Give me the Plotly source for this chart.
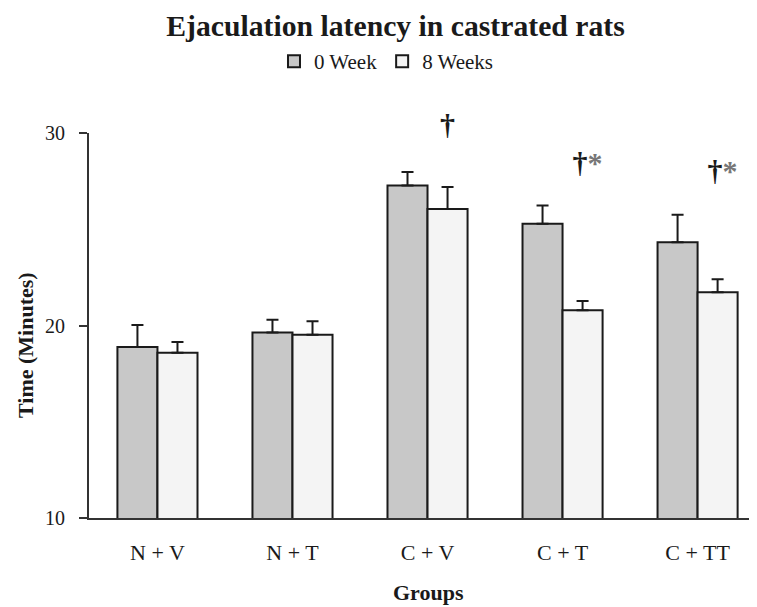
import plotly.graph_objects as go

groups = ["N + V", "N + T", "C + V", "C + T", "C + TT"]
week0 = [18.88, 19.63, 27.27, 25.28, 24.33]
week0_err = [1.15, 0.67, 0.70, 0.95, 1.42]
week8 = [18.59, 19.52, 26.05, 20.79, 21.73]
week8_err = [0.55, 0.70, 1.14, 0.48, 0.67]
sig_text = ["", "", "†", "†*", "†*"]
sig_base = [None, None, 29.5, 27.52, 27.1]  # value at the foot of each mark
y_ticks = [10, 20, 30]

FONT = "Liberation Serif, Times New Roman, serif"
INK = "#1a1a1a"
BARGAP = 0.407
idx = list(range(len(groups)))
half = (1 - BARGAP) / 4  # centre offset of each bar inside its group

W, H = 749, 599  # page body has an 8px margin

fig = go.Figure()
fig.add_trace(go.Bar(
    x=idx, y=week0, name="0 Week", offsetgroup="a",
    marker=dict(color="#c8c8c8", line=dict(color=INK, width=2)),
    error_y=dict(type="data", symmetric=False, array=week0_err,
                 arrayminus=[0] * len(week0), width=6, thickness=2, color=INK),
))
fig.add_trace(go.Bar(
    x=idx, y=week8, name="8 Weeks", offsetgroup="b",
    marker=dict(color="#f4f4f4", line=dict(color=INK, width=2)),
    error_y=dict(type="data", symmetric=False, array=week8_err,
                 arrayminus=[0] * len(week8), width=6, thickness=2, color=INK),
))

sx, sy, st = [], [], []
for i, (t, yv) in enumerate(zip(sig_text, sig_base)):
    if not t:
        continue
    sx.append(i + half + (0.037 if "*" in t else 0))
    sy.append(yv)
    st.append("<b>" + t.replace("*", "<span style='color:#777'>*</span>") + "</b>")
fig.add_trace(go.Scatter(
    x=sx, y=sy, text=st, mode="text", textposition="top center",
    textfont=dict(family=FONT, size=30, color=INK), cliponaxis=False,
    showlegend=False, hoverinfo="skip",
))

fig.add_annotation(
    x=0.5075, y=-0.2323, xref="paper", yref="paper", text="<b>Groups</b>",
    showarrow=False, xanchor="center", yanchor="bottom",
    font=dict(family=FONT, size=22, color=INK),
)
fig.add_annotation(
    x=-0.094, y=0.45, xref="paper", yref="paper", text="<b>Time (Minutes)</b>",
    showarrow=False, xanchor="center", yanchor="middle", textangle=-90,
    font=dict(family=FONT, size=22, color=INK),
)

fig.update_layout(
    width=W, height=H,
    margin=dict(l=81, r=0, t=125, b=89),
    paper_bgcolor="white", plot_bgcolor="white",
    barmode="group", bargap=BARGAP, bargroupgap=0,
    title=dict(text="<b>Ejaculation latency in castrated rats</b>",
               x=387.5 / W, xanchor="center", xref="container",
               y=1 - 17.6 / H, yanchor="middle", yref="container",
               font=dict(family=FONT, size=29.7, color=INK)),
    legend=dict(orientation="h", x=0.4446, xanchor="center", y=1.1855,
                yanchor="middle", font=dict(family=FONT, size=21, color=INK),
                bgcolor="rgba(0,0,0,0)", itemwidth=30, traceorder="normal"),
    font=dict(family=FONT, color=INK),
)
fig.update_xaxes(
    range=[-0.507, 4.44], tickvals=idx, ticktext=groups, ticks="",
    showline=True, linecolor="#333", linewidth=2, showgrid=False, zeroline=False,
    tickfont=dict(family=FONT, size=22, color=INK), ticklabelstandoff=14,
)
fig.update_yaxes(
    range=[10, 30], tickvals=y_ticks, ticks="outside", ticklen=8, tickwidth=2,
    tickcolor="#333", showline=True, linecolor="#333", linewidth=2,
    showgrid=False, zeroline=False, ticklabelstandoff=10,
    tickfont=dict(family=FONT, size=20, color=INK),
)

fig.write_html("out.html")
